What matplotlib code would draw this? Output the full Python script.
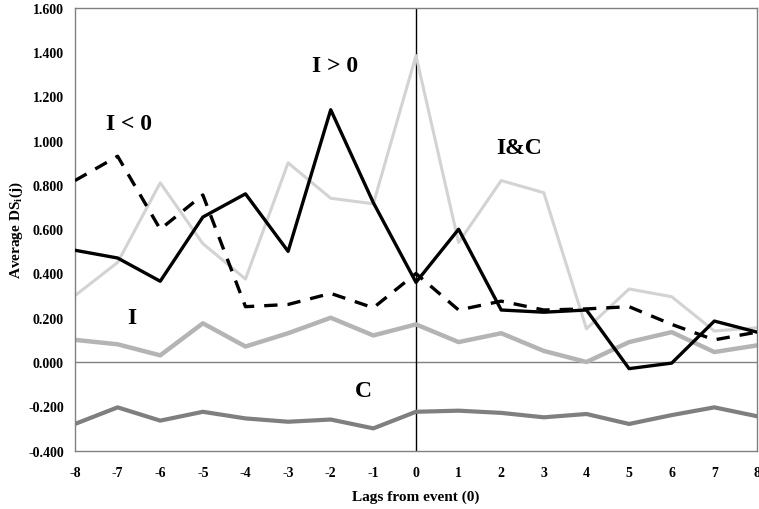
import numpy as np
import matplotlib.pyplot as plt

plt.rcParams['font.family'] = ['Liberation Serif', 'DejaVu Serif']
plt.rcParams['font.weight'] = 'bold'
plt.rcParams['axes.unicode_minus'] = False

lags = np.arange(-8, 9)

ic_vals = [0.30, 0.45, 0.81, 0.535, 0.375, 0.90, 0.74, 0.715, 1.385,
           0.54, 0.82, 0.765, 0.15, 0.33, 0.295, 0.14, 0.155]
i_pos = [0.505, 0.47, 0.365, 0.655, 0.76, 0.50, 1.14, 0.72, 0.36,
         0.60, 0.235, 0.225, 0.235, -0.03, -0.005, 0.185, 0.135]
i_neg = [0.82, 0.93, 0.60, 0.755, 0.25, 0.26, 0.31, 0.245, 0.40,
         0.235, 0.275, 0.235, 0.24, 0.25, 0.17, 0.10, 0.135]
i_vals = [0.10, 0.08, 0.03, 0.175, 0.07, 0.13, 0.20, 0.12, 0.17,
          0.09, 0.13, 0.05, 0.00, 0.09, 0.135, 0.045, 0.075]
c_vals = [-0.28, -0.205, -0.265, -0.225, -0.255, -0.27, -0.26, -0.30, -0.225,
          -0.22, -0.23, -0.25, -0.235, -0.28, -0.24, -0.205, -0.245]

yticks = np.arange(-0.4, 1.61, 0.2)

fig = plt.figure(figsize=(7.59, 5.10), dpi=100)
ax = fig.add_axes([0.0988, 0.1147, 0.8985, 0.8677])

ax.axhline(0, color='#808080', lw=1.0, zorder=1)
ax.axvline(0, color='black', lw=1.0, zorder=1)

ax.plot(lags, ic_vals, color='#d3d3d3', lw=2.2, zorder=2)
ax.plot(lags, i_vals, color='#b4b4b4', lw=3.2, zorder=2)
ax.plot(lags, c_vals, color='#7f7f7f', lw=3.0, zorder=2)
ax.plot(lags, i_neg, color='black', lw=2.4, dashes=(4, 3), zorder=3)
ax.plot(lags, i_pos, color='black', lw=2.4, zorder=4)

ax.set_xlim(-8, 8)
ax.set_ylim(-0.4, 1.6)
ax.set_xticks(lags)
ax.set_yticks(yticks)
ax.set_yticklabels(['%.3f' % v for v in yticks])
ax.tick_params(length=0, labelsize=10)
ax.tick_params(axis='x', pad=11)
ax.tick_params(axis='y', pad=8)
for lab in ax.get_xticklabels() + ax.get_yticklabels():
    lab.set_fontweight('bold')
for s in ax.spines.values():
    s.set_color('#808080')
    s.set_linewidth(1.0)

ax.set_xlabel('Lags from event (0)', fontsize=11, fontweight='bold', labelpad=8)
ax.set_ylabel(r'Average DS$_\mathregular{i}$(j)', fontsize=11, fontweight='bold', labelpad=2)

lab_kw = dict(fontsize=17, fontweight='bold', ha='center', va='center')
ax.text(-6.74, 1.08, 'I < 0', **lab_kw)
ax.text(-1.89, 1.34, 'I > 0', **lab_kw)
ax.text(2.42, 0.97, 'I&C', **lab_kw)
ax.text(-6.67, 0.20, 'I', **lab_kw)
ax.text(-1.23, -0.13, 'C', **lab_kw)

fig.savefig('out.png', dpi=100)
